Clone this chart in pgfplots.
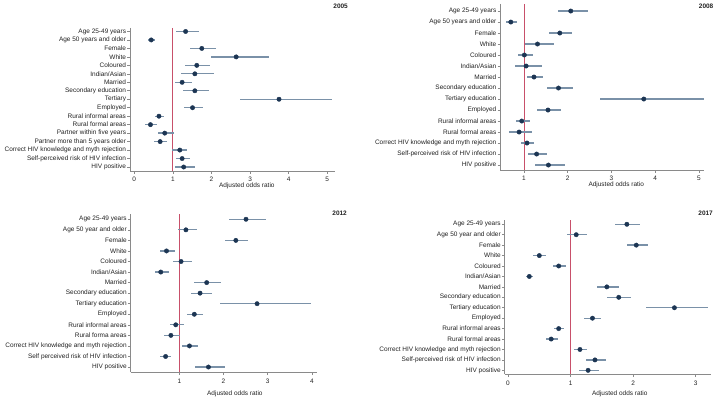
\documentclass[border=0pt]{standalone}
\usepackage{pgfplots}
\usepackage{pgfplotstable}
\pgfplotsset{compat=1.18}
\usepackage{fontspec}
\setmainfont{Liberation Sans}
\definecolor{cic}{HTML}{7A91A8}
\definecolor{dotc}{HTML}{1C3553}
\definecolor{refc}{HTML}{C8506A}
\definecolor{axc}{HTML}{8A8A8A}
\definecolor{txtc}{HTML}{222222}

\pgfplotstableread{
row or lo hi
1 1.33 1.08 1.67
2 0.44 0.35 0.55
3 1.75 1.44 2.11
4 2.64 2.00 3.49
5 1.62 1.32 1.96
6 1.57 1.21 2.06
7 1.24 1.06 1.50
8 1.57 1.26 1.93
9 3.75 2.74 5.12
10 1.51 1.28 1.77
11 0.64 0.53 0.78
12 0.42 0.27 0.60
13 0.79 0.61 1.02
14 0.67 0.51 0.86
15 1.18 0.99 1.37
16 1.24 1.07 1.44
17 1.28 1.05 1.57
}\tA
\pgfplotstableread{
row or lo hi
1 2.07 1.77 2.47
2 0.70 0.58 0.85
3 1.82 1.58 2.11
4 1.31 1.03 1.68
5 1.01 0.86 1.20
6 1.05 0.80 1.41
7 1.23 1.07 1.43
8 1.79 1.53 2.12
9 3.74 2.75 5.12
10 1.55 1.31 1.84
11 0.95 0.82 1.13
12 0.89 0.66 1.19
13 1.07 0.93 1.23
14 1.29 1.10 1.52
15 1.56 1.26 1.94
}\tB
\pgfplotstableread{
row or lo hi
1 2.51 2.13 2.97
2 1.15 0.96 1.39
3 2.28 2.04 2.56
4 0.71 0.57 0.91
5 1.04 0.86 1.28
6 0.58 0.46 0.76
7 1.62 1.33 1.94
8 1.47 1.26 1.73
9 2.76 1.91 3.99
10 1.34 1.17 1.53
11 0.92 0.79 1.11
12 0.81 0.65 1.02
13 1.23 1.06 1.43
14 0.69 0.57 0.82
15 1.66 1.36 2.04
}\tC
\pgfplotstableread{
row or lo hi
1 1.90 1.71 2.11
2 1.09 0.95 1.27
3 2.05 1.90 2.23
4 0.50 0.40 0.61
5 0.81 0.72 0.92
6 0.34 0.29 0.40
7 1.58 1.42 1.77
8 1.77 1.59 1.96
9 2.66 2.21 3.20
10 1.35 1.22 1.48
11 0.81 0.74 0.89
12 0.69 0.60 0.80
13 1.15 1.05 1.26
14 1.39 1.24 1.57
15 1.28 1.14 1.45
}\tD

\pgfplotsset{
  fp/.style={
    scale only axis,
    axis x line*=bottom, axis y line*=left,
    y dir=reverse,
    axis line style={draw=axc, line width=0.6bp, -},
    tick style={draw=axc, line width=0.6bp},
    tick align=outside,
    major tick length=2.8bp,
    xtick pos=bottom, ytick pos=left,
    tick label style={font=\fontsize{6.5}{7.5}\selectfont, text=txtc},
    yticklabel style={inner sep=1bp},
    /pgf/number format/assume math mode=true,
    xlabel={Adjusted odds ratio},
    label style={font=\fontsize{6.5}{7.5}\selectfont, text=txtc},
    clip=false,
  },
  refline/.style={draw=refc, line width=0.8bp, mark=none, forget plot},
  fpplot/.style={only marks, mark=*, mark size=2.2bp,
    mark options={fill=dotc, draw=dotc},
    error bars/.cd, x dir=both, x explicit, error mark=none,
    error bar style={draw=cic, line width=1.3bp}},
}

\begin{document}
\begin{tikzpicture}[x=1bp,y=1bp]
\useasboundingbox (0,0) rectangle (716,401);

% 2005
\begin{axis}[fp, at={(130bp,230bp)}, anchor=south west,
  width=205bp, height=143bp,
  xmin=-0.11, xmax=5.2, ymin=0.59, ymax=17.47,
  xtick={0,1,2,3,4,5},
  ytick={1,...,17},
  yticklabels={Age 25-49 years, Age 50 years and older, Female, White, Coloured, Indian/Asian, Married, Secondary education, Tertiary, Employed, Rural informal areas, Rural formal areas, Partner within five years, Partner more than 5 years  older, Correct HIV knowledge and myth rejection, Self-perceived risk of HIV infection, HIV positive},
  xlabel style={at={(axis description cs:0.57,0)}, anchor=center, yshift=-15bp},
]
\addplot[refline] coordinates {(1,0.59) (1,17.47)};
\addplot[fpplot] table[x=or, y=row, x error plus expr=\thisrow{hi}-\thisrow{or}, x error minus expr=\thisrow{or}-\thisrow{lo}] {\tA};
\end{axis}

% 2008
\begin{axis}[fp, at={(500.3bp,231bp)}, anchor=south west,
  width=203.4bp, height=166bp,
  xmin=0.46, xmax=5.11, ymin=0.36, ymax=15.45,
  xtick={1,2,3,4,5},
  ytick={1,...,15},
  yticklabels={Age 25-49 years, Age 50 years and older, Female, White, Coloured, Indian/Asian, Married, Secondary education, Tertiary education, Employed, Rural informal areas, Rural formal areas, Correct HIV knowledge and myth rejection, Self-perceived risk of HIV infection, HIV positive},
  xlabel style={at={(axis description cs:0.57,0)}, anchor=center, yshift=-15bp},
]
\addplot[refline] coordinates {(1,0.36) (1,15.45)};
\addplot[fpplot] table[x=or, y=row, x error plus expr=\thisrow{hi}-\thisrow{or}, x error minus expr=\thisrow{or}-\thisrow{lo}] {\tB};
\end{axis}

% 2012
\begin{axis}[fp, at={(130.7bp,28.7bp)}, anchor=south west,
  width=186bp, height=158.3bp,
  xmin=-0.1, xmax=4.11, ymin=0.5, ymax=15.5,
  xtick={1,2,3,4},
  ytick={1,...,15},
  yticklabels={Age 25-49 years, Age 50 year and older, Female, White, Coloured, Indian/Asian, Married, Secondary education, Tertiary education, Employed, Rural informal areas, Rural forma areas, Correct HIV knowledge and myth rejection, Self perceived risk of HIV infection, HIV positive},
  xlabel style={at={(axis description cs:0.56,0)}, anchor=center, yshift=-22bp},
]
\addplot[refline] coordinates {(1,0.5) (1,15.5)};
\addplot[fpplot] table[x=or, y=row, x error plus expr=\thisrow{hi}-\thisrow{or}, x error minus expr=\thisrow{or}-\thisrow{lo}] {\tC};
\end{axis}

% 2017
\begin{axis}[fp, at={(504.7bp,26.7bp)}, anchor=south west,
  width=206.6bp, height=154.3bp,
  xmin=-0.053, xmax=3.25, ymin=0.59, ymax=15.38,
  xtick={0,1,2,3},
  ytick={1,...,15},
  yticklabels={Age 25-49 years, Age 50 year and older, Female, White, Coloured, Indian/Asian, Married, Secondary education, Tertiary education, Employed, Rural informal areas, Rural formal areas, Correct HIV knowledge and myth rejection, Self-perceived risk of HIV infection, HIV positive},
  xlabel style={at={(axis description cs:0.557,0)}, anchor=center, yshift=-20bp},
]
\addplot[refline] coordinates {(1,0.59) (1,15.38)};
\addplot[fpplot] table[x=or, y=row, x error plus expr=\thisrow{hi}-\thisrow{or}, x error minus expr=\thisrow{or}-\thisrow{lo}] {\tD};
\end{axis}

\node[anchor=north east, inner sep=0pt, font=\fontsize{6.5}{7.5}\selectfont\bfseries, text=txtc] at (348,397) {2005};
\node[anchor=north east, inner sep=0pt, font=\fontsize{6.5}{7.5}\selectfont\bfseries, text=txtc] at (713.5,397) {2008};
\node[anchor=north east, inner sep=0pt, font=\fontsize{6.5}{7.5}\selectfont\bfseries, text=txtc] at (347,190) {2012};
\node[anchor=north east, inner sep=0pt, font=\fontsize{6.5}{7.5}\selectfont\bfseries, text=txtc] at (713,190) {2017};
\end{tikzpicture}
\end{document}
